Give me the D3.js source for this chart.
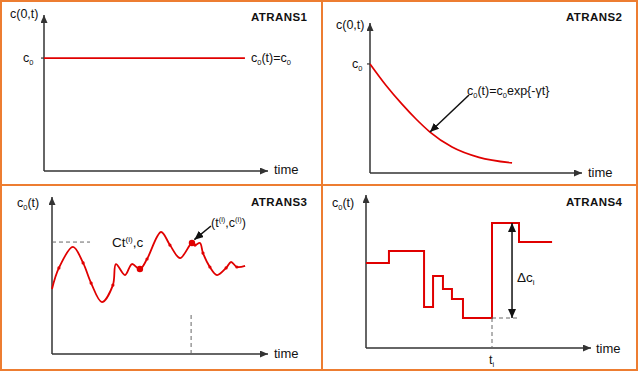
<!DOCTYPE html>
<html><head><meta charset="utf-8">
<script src="https://cdn.jsdelivr.net/npm/d3@7"></script>
<style>
html,body{margin:0;padding:0;background:#fff;}
svg{display:block;}
text{font-family:"Liberation Sans",Arial,sans-serif;fill:#111;}
</style></head>
<body>
<svg id="chart" width="639" height="372"></svg>
<script>
// ---------- data ----------
const panelTitles = ["ATRANS1", "ATRANS2", "ATRANS3", "ATRANS4"];
// ATRANS1: constant concentration
const constT = [0, 89.7];
const constC = [72.4, 72.4];
// ATRANS2: exponential decay
const decayT = [0, 7.5, 15.1, 21.7, 28.3, 38.7, 51.4, 67.0];
const decayC = [72.7, 58.5, 45.9, 36.0, 27.3, 17.3, 10.4, 6.7];
// ATRANS3: arbitrary time series
const waveT = [0, 3.2, 9.7, 14.4, 18.1, 23.1, 28.2, 29.6, 33.8, 37.0, 40.7, 44.0, 50.5, 54.6, 59.3, 64.8, 66.2, 68.5, 69.9, 73.1, 76.4, 80.6, 82.9, 85.6, 89.4];
const waveC = [41.4, 54.8, 68.2, 58.0, 45.2, 33.1, 43.9, 57.3, 50.3, 57.3, 54.1, 60.5, 77.7, 69.4, 61.1, 70.7, 69.4, 70.7, 64.3, 55.4, 50.3, 54.8, 58.6, 55.4, 56.1];
const waveSmallDots = [1, 3, 4, 6, 11, 13, 16, 18, 19, 21, 23];
const waveBigDots = [10, 15];
const waveMarkT = 64.4;
const waveRefC = 71.3;
// ATRANS4: step changes
const stepT = [0, 10.2, 25.8, 29.8, 34.2, 38.2, 43.1, 56.0, 68.0, 82.7];
const stepC = [55.6, 63.4, 26.8, 47.1, 38.6, 32.0, 19.6, 81.7, 69.3, 69.3];
const stepIdx = 7; // t_i

// ---------- layout ----------
const svg = d3.select("#chart");
const ORANGE = "#ED7D31", RED = "#E00000", AXIS = "#333", DASH = "#666";

const defs = svg.append("defs");
function marker(id, w, h, color) {
  defs.append("marker").attr("id", id).attr("viewBox", `0 0 ${w} ${h}`)
    .attr("refX", w).attr("refY", h / 2).attr("markerWidth", w).attr("markerHeight", h)
    .attr("markerUnits", "userSpaceOnUse").attr("orient", "auto-start-reverse")
    .append("path").attr("d", `M0,0L${w},${h/2}L0,${h}Z`).attr("fill", color);
}
marker("axArrow", 8, 7, AXIS);
marker("annArrow", 9, 8, "#111");

// borders
svg.append("rect").attr("x", 1).attr("y", 1).attr("width", 636).attr("height", 369)
  .attr("fill", "none").attr("stroke", ORANGE).attr("stroke-width", 2);
svg.append("line").attr("x1", 322).attr("x2", 322).attr("y1", 1).attr("y2", 370)
  .attr("stroke", ORANGE).attr("stroke-width", 2);
svg.append("line").attr("x1", 1).attr("x2", 637).attr("y1", 185).attr("y2", 185)
  .attr("stroke", ORANGE).attr("stroke-width", 2);

const panels = [
  { x0: 44, x1: 268, y0: 171, y1: 15 },
  { x0: 370, x1: 582, y0: 173, y1: 23 },
  { x0: 52, x1: 268, y0: 354, y1: 197 },
  { x0: 366, x1: 591, y0: 348, y1: 195 }
];
panels.forEach(p => {
  p.x = d3.scaleLinear().domain([0, 100]).range([p.x0, p.x1]);
  p.y = d3.scaleLinear().domain([0, 100]).range([p.y0, p.y1]);
  p.g = svg.append("g");
});

// rich text helper: segments [text, kind] kind: "", "sub", "sup"
function rich(g, x, y, segs, opts = {}) {
  const size = opts.size || 12.5;
  const t = g.append("text").attr("x", x).attr("y", y).attr("font-size", size);
  if (opts.weight) t.attr("font-weight", opts.weight);
  let shift = 0;
  segs.forEach(([s, k]) => {
    const target = k === "sub" ? 3 : k === "sup" ? -5 : 0;
    const ts = t.append("tspan").text(s).attr("dy", target - shift);
    if (k) ts.attr("font-size", size * 0.6);
    shift = target;
  });
  return t;
}

function drawAxes(p, ylab, labX, labY, timeX, timeY) {
  p.g.append("line").attr("x1", p.x0).attr("x2", p.x0).attr("y1", p.y0).attr("y2", p.y1)
    .attr("stroke", AXIS).attr("stroke-width", 1.5).attr("marker-end", "url(#axArrow)");
  p.g.append("line").attr("x1", p.x0).attr("x2", p.x1).attr("y1", p.y0).attr("y2", p.y0)
    .attr("stroke", AXIS).attr("stroke-width", 1.5).attr("marker-end", "url(#axArrow)");
  rich(p.g, labX, labY, ylab);
  p.g.append("text").attr("x", timeX).attr("y", timeY).attr("font-size", 13).text("time");
}
function title(p, i, x, y) {
  p.g.append("text").attr("x", x).attr("y", y).attr("font-size", 11.5)
    .attr("font-weight", "bold").attr("letter-spacing", 0.4).text(panelTitles[i]);
}

// ---------- ATRANS1 ----------
{
  const p = panels[0];
  drawAxes(p, [["c(0,t)", ""]], 10, 18, 274, 174);
  title(p, 0, 251, 21);
  const line = d3.line().x((d, i) => p.x(constT[i])).y((d, i) => p.y(constC[i]));
  p.g.append("path").attr("d", line(constT)).attr("fill", "none").attr("stroke", RED).attr("stroke-width", 1.7);
  p.g.append("line").attr("x1", p.x0 - 3).attr("x2", p.x0).attr("y1", p.y(constC[0])).attr("y2", p.y(constC[0]))
    .attr("stroke", AXIS).attr("stroke-width", 1.2);
  rich(p.g, 23, 62, [["c", ""], ["0", "sub"]]);
  rich(p.g, 251, 62, [["c", ""], ["0", "sub"], ["(t)=c", ""], ["0", "sub"]]);
}

// ---------- ATRANS2 ----------
{
  const p = panels[1];
  drawAxes(p, [["c(0,t)", ""]], 336, 29, 588, 177);
  title(p, 1, 566, 21);
  const line = d3.line().x((d, i) => p.x(decayT[i])).y((d, i) => p.y(decayC[i])).curve(d3.curveMonotoneX);
  p.g.append("path").attr("d", line(decayT)).attr("fill", "none").attr("stroke", RED).attr("stroke-width", 1.7);
  p.g.append("line").attr("x1", p.x0 - 3).attr("x2", p.x0).attr("y1", p.y(decayC[0])).attr("y2", p.y(decayC[0]))
    .attr("stroke", AXIS).attr("stroke-width", 1.2);
  rich(p.g, 352, 68, [["c", ""], ["0", "sub"]]);
  rich(p.g, 467, 95, [["c", ""], ["0", "sub"], ["(t)=c", ""], ["0", "sub"], ["exp{-γt}", ""]]);
  p.g.append("line").attr("x1", p.x(46.7)).attr("y1", p.y(52)).attr("x2", p.x(28.3)).attr("y2", p.y(27.3))
    .attr("stroke", "#111").attr("stroke-width", 1.5).attr("marker-end", "url(#annArrow)");
}

// ---------- ATRANS3 ----------
{
  const p = panels[2];
  drawAxes(p, [["c", ""], ["0", "sub"], ["(t)", ""]], 17, 207, 274, 358);
  title(p, 2, 251, 206);
  const line = d3.line().x((d, i) => p.x(waveT[i])).y((d, i) => p.y(waveC[i])).curve(d3.curveCatmullRom.alpha(0.5));
  p.g.append("path").attr("d", line(waveT)).attr("fill", "none").attr("stroke", RED).attr("stroke-width", 1.8);
  p.g.selectAll(".sd").data(waveSmallDots).enter().append("circle")
    .attr("cx", i => p.x(waveT[i])).attr("cy", i => p.y(waveC[i])).attr("r", 1.6).attr("fill", RED);
  p.g.selectAll(".bd").data(waveBigDots).enter().append("circle")
    .attr("cx", i => p.x(waveT[i])).attr("cy", i => p.y(waveC[i])).attr("r", 3.2).attr("fill", RED);
  p.g.append("line").attr("x1", p.x(0)).attr("x2", p.x(17.6)).attr("y1", p.y(waveRefC)).attr("y2", p.y(waveRefC))
    .attr("stroke", DASH).attr("stroke-width", 1).attr("stroke-dasharray", "4,3");
  p.g.append("line").attr("x1", p.x(waveMarkT)).attr("x2", p.x(waveMarkT)).attr("y1", p.y(0)).attr("y2", p.y(26.1))
    .attr("stroke", DASH).attr("stroke-width", 1).attr("stroke-dasharray", "4,3");
  rich(p.g, 112, 247, [["Ct", ""], ["(i)", "sup"], [",c", ""]], { size: 13.5 });
  rich(p.g, 211, 227, [["(t", ""], ["(i)", "sup"], [",c", ""], ["(i)", "sup"], [")", ""]]);
  p.g.append("line").attr("x1", p.x(73.6)).attr("y1", p.y(81.5)).attr("x2", p.x(65.9)).attr("y2", p.y(72.8))
    .attr("stroke", "#111").attr("stroke-width", 1.5).attr("marker-end", "url(#annArrow)");
}

// ---------- ATRANS4 ----------
{
  const p = panels[3];
  drawAxes(p, [["c", ""], ["0", "sub"], ["(t)", ""]], 332, 207, 596, 353);
  title(p, 3, 566, 206);
  const line = d3.line().x((d, i) => p.x(stepT[i])).y((d, i) => p.y(stepC[i])).curve(d3.curveStepAfter);
  p.g.append("path").attr("d", line(stepT)).attr("fill", "none").attr("stroke", RED).attr("stroke-width", 2);
  const ti = stepT[stepIdx], lo = stepC[stepIdx - 1], hi = stepC[stepIdx], tEnd = stepT[stepIdx + 1];
  p.g.append("line").attr("x1", p.x(ti)).attr("x2", p.x(tEnd)).attr("y1", p.y(lo)).attr("y2", p.y(lo))
    .attr("stroke", DASH).attr("stroke-width", 1).attr("stroke-dasharray", "4,3");
  p.g.append("line").attr("x1", p.x(ti)).attr("x2", p.x(ti)).attr("y1", p.y(lo)).attr("y2", p.y(0))
    .attr("stroke", DASH).attr("stroke-width", 1).attr("stroke-dasharray", "4,3");
  const ax = p.x(64.9);
  p.g.append("line").attr("x1", ax).attr("x2", ax).attr("y1", p.y(lo)).attr("y2", p.y(hi))
    .attr("stroke", "#111").attr("stroke-width", 1.5)
    .attr("marker-start", "url(#annArrow)").attr("marker-end", "url(#annArrow)");
  rich(p.g, 517, 282, [["Δc", ""], ["i", "sub"]], { size: 13.5 });
  rich(p.g, 489, 364, [["t", ""], ["i", "sub"]]);
}
</script>
</body></html>
